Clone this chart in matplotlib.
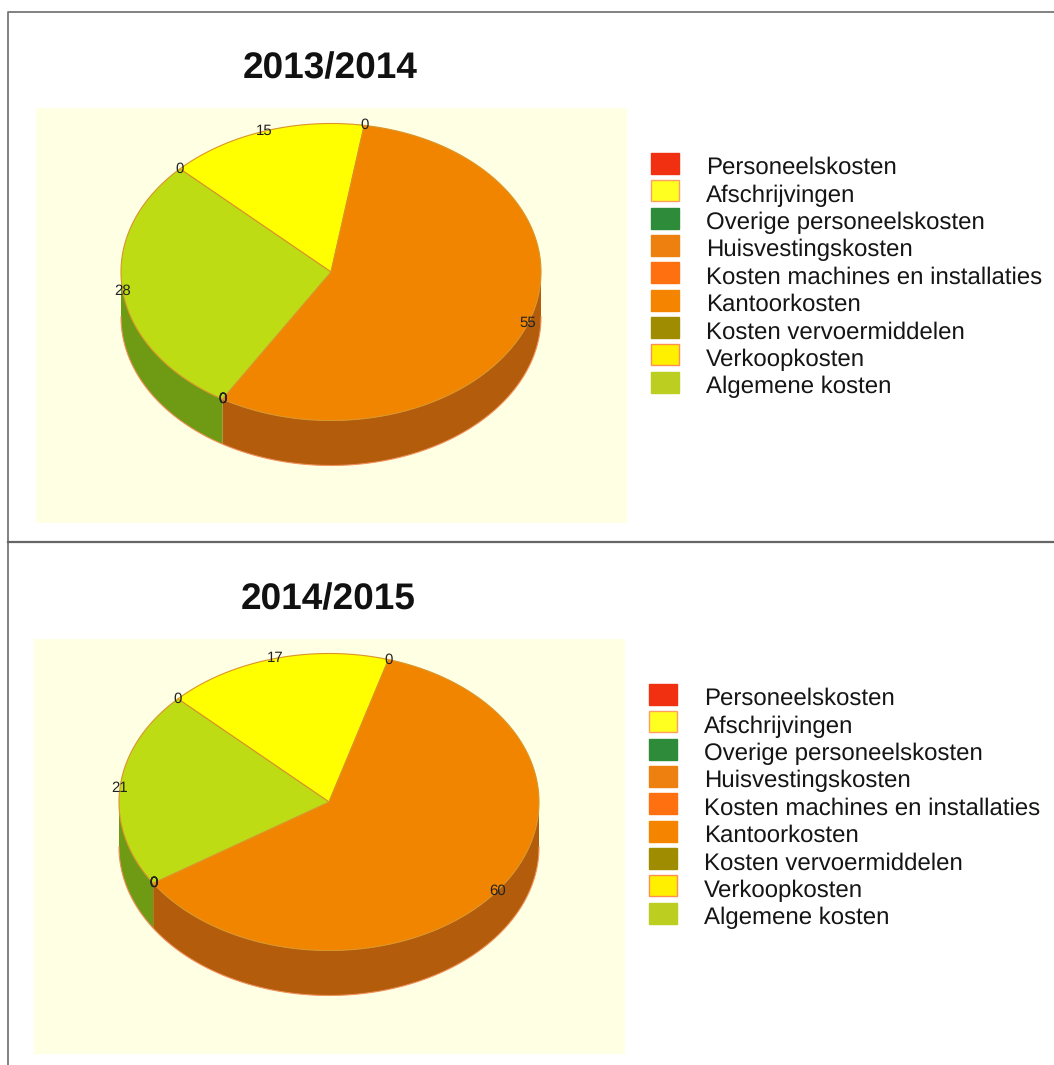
import numpy as np
import matplotlib
matplotlib.use('Agg')
import matplotlib.pyplot as plt
from matplotlib.patches import Rectangle

plt.rcParams['font.family'] = ['Liberation Sans', 'DejaVu Sans']
plt.rcParams['text.hinting'] = 'none'
plt.rcParams['text.hinting_factor'] = 1

categories = ['Personeelskosten', 'Afschrijvingen', 'Overige personeelskosten',
              'Huisvestingskosten', 'Kosten machines en installaties', 'Kantoorkosten',
              'Kosten vervoermiddelen', 'Verkoopkosten', 'Algemene kosten']
values_2013 = [0, 15, 0, 55, 0, 0, 0, 0, 28]
values_2014 = [0, 17, 0, 60, 0, 0, 0, 0, 21]

top_colors = ['#F03010', '#FFFF00', '#2E8B3A', '#F28500', '#FF7010', '#F58500',
              '#A08C00', '#FFFF00', '#BEDC14']
side_colors = ['#A82208', '#B3B300', '#1F6128', '#B35C0C', '#B34E0B', '#B35C0C',
               '#706200', '#B3B300', '#6F9A14']
key_colors = ['#F03010', '#FFFF20', '#2E8B3A', '#EE8010', '#FF7010', '#F58500',
              '#A08C00', '#FFF000', '#BCCF20']
key_edges = ['#F03010', '#FFA060', '#2E8B3A', '#EE8010', '#FF7010', '#F58500',
             '#A08C00', '#FF9050', '#BCCF20']

W, H = 1054, 1065
RX, RY, DEPTH = 210, 148.5, 45
START = 314


def ell(cx, cy, t):
    r = np.radians(t)
    return cx + RX * np.sin(r), cy - RY * np.cos(r)


def draw_panel(ax, title, values, dx, dy, cx, cy):
    ax.add_patch(Rectangle((36 + dx, 108 + dy), 591, 415, color='#FFFFE4', lw=0))
    ax.text(330.5 + dx, 68.5 + dy, title, fontsize=26.3, fontweight='bold', ha='center', va='center', color='#111111')

    total = sum(values)
    edges = START + np.cumsum([0] + values) / total * 360

    # side of the disc, only the part that faces the viewer
    for i in range(len(values)):
        a = edges[i]
        b = edges[i + 1]
        for shift in (0, 360):
            lo = max(a - shift, 90)
            hi = min(b - shift, 270)
            if hi > lo:
                t = np.linspace(lo, hi, 120)
                x, y = ell(cx, cy, t)
                ax.fill(np.r_[x, x[::-1]], np.r_[y, y[::-1] + DEPTH], color=side_colors[i], lw=0)
    t = np.linspace(90, 270, 200)
    x, y = ell(cx, cy + DEPTH, t)
    ax.plot(x, y, color='#F0905A', lw=0.8)

    # top of the disc
    for i in range(len(values)):
        if values[i] == 0:
            continue
        t = np.linspace(edges[i], edges[i + 1], 200)
        x, y = ell(cx, cy, t)
        ax.fill(np.r_[cx, x], np.r_[cy, y], facecolor=top_colors[i],
                edgecolor='#D9952A', lw=0.8)

    # labels sit on the rim, in the middle of each slice
    for i in range(len(values)):
        x, y = ell(cx, cy, (edges[i] + edges[i + 1]) / 2)
        ax.text(x, y, str(values[i]), fontsize=10.5, ha='center', va='center', color='#222222')

    for i, name in enumerate(categories):
        ky = 153 + dy + i * 27.35
        ax.add_patch(Rectangle((651 + dx, ky), 28, 21, facecolor=key_colors[i],
                               edgecolor=key_edges[i], lw=1))
        ax.text(706 + dx, ky + 15, name, fontsize=17.45, ha='left', va='center', color='#151515')


fig = plt.figure(figsize=(W / 100, H / 100), dpi=100, facecolor='white')
ax = fig.add_axes([0, 0, 1, 1])
ax.set_xlim(0, W)
ax.set_ylim(H, 0)
ax.axis('off')

# panel frame
ax.plot([W, 8, 8], [12, 12, H], color='#777777', lw=1.3)
ax.plot([8, W], [542, 542], color='#666666', lw=1.6)

draw_panel(ax, '2013/2014', values_2013, 0, 0, 331, 272)
draw_panel(ax, '2014/2015', values_2014, -2, 531, 329, 802)

fig.savefig('out.png', dpi=100)
